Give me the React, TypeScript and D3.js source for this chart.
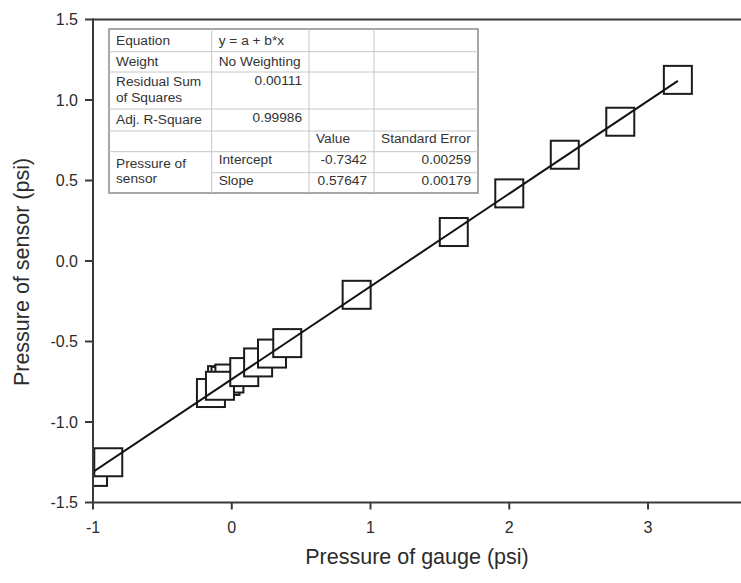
import React from "react";
import * as d3 from "d3";

// Calibration run: gauge reading vs. sensor reading (psi)
const gauge = [-1.0, -0.89, -0.15, -0.07, -0.045, -0.017, -0.085, 0.09, 0.19, 0.29, 0.40, 0.90, 1.60, 2.00, 2.40, 2.80, 3.215];
const sensor = [-1.31, -1.25, -0.82, -0.74, -0.745, -0.73, -0.775, -0.69, -0.63, -0.575, -0.51, -0.21, 0.18, 0.42, 0.66, 0.865, 1.125];

// Linear fit results
const intercept = -0.7342;
const slope = 0.57647;

const xTicks = [-1, 0, 1, 2, 3];
const yTicks = [1.5, 1.0, 0.5, 0.0, -0.5, -1.0, -1.5];

const xTitle = "Pressure of gauge (psi)";
const yTitle = "Pressure of sensor (psi)";

// Fit summary table: [label, col1, col2, col3]
const tableRows = [
  ["Equation", "y = a + b*x", "", ""],
  ["Weight", "No Weighting", "", ""],
  ["Residual Sum|of Squares", "0.00111", "", ""],
  ["Adj. R-Square", "0.99986", "", ""],
  ["", "", "Value", "Standard Error"],
  ["Pressure of|sensor", "Intercept", "-0.7342", "0.00259"],
  ["", "Slope", "0.57647", "0.00179"],
];

const W = 741;
const H = 583;
const FONT = "'Liberation Sans', Arial, Helvetica, sans-serif";

export default function App() {
  const left = 93;
  const right = 741;
  const top = 19.5;
  const bottom = 502.5;

  const x = d3.scaleLinear().domain([-1, 3.67]).range([left, right]);
  const y = d3.scaleLinear().domain([-1.5, 1.5]).range([bottom, top]);

  const pts = gauge.map((g, i) => ({ g, s: sensor[i] }));
  const xMin = d3.min(gauge) as number;
  const xMax = d3.max(gauge) as number;
  const fit = d3
    .line<number>()
    .x((d) => x(d))
    .y((d) => y(intercept + slope * d));
  const fitPath = fit([xMin, xMax]) as string;

  const sq = 28;
  const axisColor = "#3a3a3a";
  const textColor = "#2b2b2b";

  // table geometry
  const cols = [109, 211.7, 309, 374, 478];
  const rows = [29, 51.7, 72, 109, 131, 151.7, 172.7, 193];
  const tFont = 13.7;
  const tColor = "#333";
  const pad = 7;

  // baselines for each row (first line of multi-line cells)
  const baselines = [45, 65.7, 85.5, 123.5, 143, 164, 185];

  const cells: React.ReactNode[] = [];
  tableRows.forEach((r, ri) => {
    r.forEach((txt, ci) => {
      if (!txt) return;
      const rightAligned = (ci === 1 && (ri === 2 || ri === 3)) || (ci >= 2 && ri >= 5);
      const lines = txt.split("|");
      let base = baselines[ri];
      if (ri === 5 && ci === 0) base = 168.3;
      if (ri === 3 && ci === 1) base = 122;
      if (ri === 2 && ci === 1) base = 84.5;
      const tx = rightAligned ? cols[ci + 1] - pad : cols[ci] + pad;
      cells.push(
        <text
          key={`c${ri}-${ci}`}
          x={tx}
          y={base}
          fontSize={tFont}
          fill={tColor}
          textAnchor={rightAligned ? "end" : "start"}
        >
          {lines.map((l, li) => (
            <tspan key={li} x={tx} dy={li === 0 ? 0 : ri === 5 ? 15 : 16.7}>
              {l}
            </tspan>
          ))}
        </text>
      );
    });
  });

  return (
    <svg
      width={W}
      height={H}
      viewBox={`0 0 ${W} ${H}`}
      style={{ position: "absolute", left: 0, top: 0, background: "#fff" }}
      fontFamily={FONT}
    >
      <defs>
        <clipPath id="plot-area">
          <rect x={left} y={top} width={right - left} height={bottom - top} />
        </clipPath>
      </defs>
      <rect x={0} y={0} width={W} height={H} fill="#fff" />

      {/* markers */}
      <g clipPath="url(#plot-area)">
        {pts.map((p, i) => (
          <rect
            key={i}
            x={x(p.g) - sq / 2}
            y={y(p.s) - sq / 2}
            width={sq}
            height={sq}
            fill="#fff"
            stroke="#1c1c1c"
            strokeWidth={2}
          />
        ))}
        <path d={fitPath} fill="none" stroke="#111" strokeWidth={2} />
      </g>

      {/* frame */}
      <line x1={left} x2={right} y1={top} y2={top} stroke={axisColor} strokeWidth={2} />
      <line x1={left} x2={right} y1={bottom} y2={bottom} stroke={axisColor} strokeWidth={2} />
      <line x1={left} x2={left} y1={top - 1} y2={bottom + 1} stroke={axisColor} strokeWidth={2} />

      {/* y axis */}
      {yTicks.map((t) => (
        <g key={`y${t}`}>
          <line x1={left - 8} x2={left} y1={y(t)} y2={y(t)} stroke={axisColor} strokeWidth={2} />
          <text
            x={78}
            y={y(t)}
            dy="0.36em"
            textAnchor="end"
            fontSize={16}
            fill={textColor}
          >
            {d3.format(".1f")(t).replace("−", "-")}
          </text>
        </g>
      ))}

      {/* x axis */}
      {xTicks.map((t) => (
        <g key={`x${t}`}>
          <line x1={x(t)} x2={x(t)} y1={bottom} y2={bottom + 7} stroke={axisColor} strokeWidth={2} />
          <text x={x(t)} y={533} textAnchor="middle" fontSize={16} fill={textColor}>
            {String(t)}
          </text>
        </g>
      ))}

      <text x={417} y={564} textAnchor="middle" fontSize={21.5} fill={textColor}>
        {xTitle}
      </text>
      <text
        transform={`translate(29, 272) rotate(-90)`}
        textAnchor="middle"
        fontSize={21.5}
        fill={textColor}
      >
        {yTitle}
      </text>

      {/* fit summary table */}
      <g>
        <rect
          x={cols[0]}
          y={rows[0]}
          width={cols[4] - cols[0]}
          height={rows[7] - rows[0]}
          fill="#fff"
          stroke="#8a8a8a"
          strokeWidth={1.5}
        />
        {rows.slice(1, 6).map((ry, i) => (
          <line key={`h${i}`} x1={cols[0]} x2={cols[4]} y1={ry} y2={ry} stroke="#c8c8c8" strokeWidth={1} />
        ))}
        <line x1={cols[1]} x2={cols[4]} y1={rows[6]} y2={rows[6]} stroke="#c8c8c8" strokeWidth={1} />
        {cols.slice(1, 4).map((cx, i) => (
          <line key={`v${i}`} x1={cx} x2={cx} y1={rows[0]} y2={rows[7]} stroke="#c8c8c8" strokeWidth={1} />
        ))}
        {cells}
      </g>
    </svg>
  );
}
